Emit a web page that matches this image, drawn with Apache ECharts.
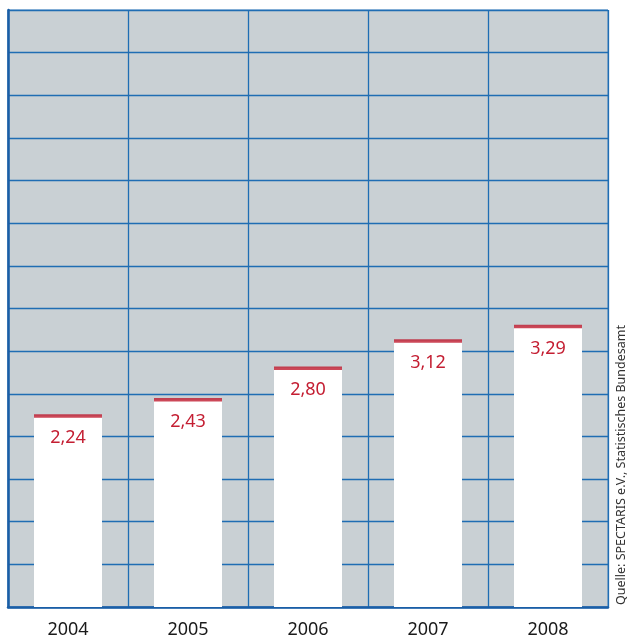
<!DOCTYPE html>
<html><head><meta charset="utf-8">
<script src="https://cdn.jsdelivr.net/npm/echarts@6/dist/echarts.min.js"></script>
<style>html,body{margin:0;padding:0;background:#fff}#c{width:628px;height:639px}</style>
</head><body><div id="c"></div>
<script>
const years = ['2004','2005','2006','2007','2008'];
const values = [2.24, 2.43, 2.80, 3.12, 3.29];
const source = 'Quelle: SPECTARIS e.V., Statistisches Bundesamt';

const chart = echarts.init(document.getElementById('c'));
const blue = '#1f6db3';
chart.setOption({
  animation: false,
  grid: {left: 8, top: 10, width: 600, height: 600, show: true, backgroundColor: '#c9d0d4', borderColor: '#4a86c0', borderWidth: 1},
  xAxis: {
    type: 'category', data: years, boundaryGap: true,
    axisLine: {show: true, lineStyle: {color: '#1a5ea6', width: 2.5}},
    axisTick: {show: false},
    axisLabel: {color: '#1a1a1a', fontSize: 18, fontFamily: 'Noto Sans', margin: 14},
    splitLine: {show: true, interval: 0, lineStyle: {color: blue, width: 1.3}}
  },
  yAxis: {
    type: 'value', min: 0, max: 7, interval: 0.5,
    axisLine: {show: true, lineStyle: {color: '#1a5ea6', width: 2.5}},
    axisTick: {show: false},
    axisLabel: {show: false},
    splitLine: {show: true, lineStyle: {color: blue, width: 1.3}}
  },
  series: [
    {
      type: 'bar', data: values, barWidth: 68,
      itemStyle: {color: '#ffffff'},
      label: {show: true, position: 'insideTop', distance: 13, color: '#c41e32', fontSize: 18, fontFamily: 'Noto Sans',
        formatter: p => p.value.toFixed(2).replace('.', ',')}
    },
    {
      type: 'scatter', data: values, symbol: 'rect', symbolSize: [68, 3.5],
      itemStyle: {color: '#bf1a2e'}, z: 5
    }
  ],
  graphic: [{
    type: 'text', x: 615, y: 605, rotation: Math.PI / 2,
    style: {text: source, fill: '#333', fontSize: 12.5, fontFamily: 'Noto Sans', textAlign: 'left', textVerticalAlign: 'top'}
  }]
});
</script></body></html>
